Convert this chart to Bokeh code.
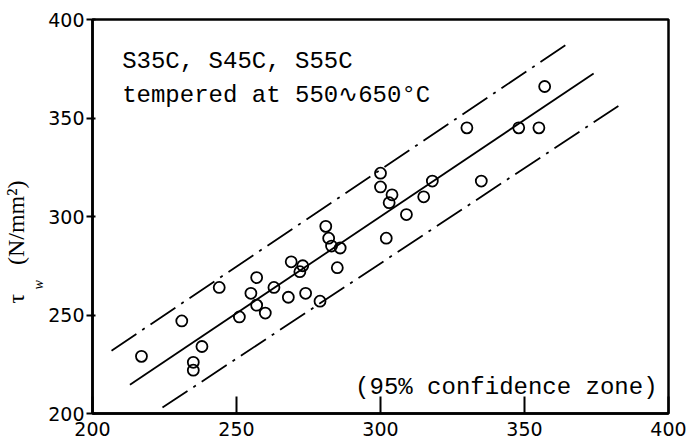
from bokeh.plotting import figure
from bokeh.models import Range1d, FixedTicker, Title
from bokeh.core.properties import value
from bokeh.embed import file_html
from bokeh.resources import INLINE

# ---- data ----
sigma_x = [217, 231, 235, 235, 238, 244, 251, 255, 257, 257, 260, 263, 268, 269,
           272, 273, 274, 279, 281, 282, 283, 286, 285, 300, 300, 302, 303, 304,
           309, 315, 318, 330, 335, 348, 355, 357]
tau_y = [229, 247, 226, 222, 234, 264, 249, 261, 255, 269, 251, 264, 259, 277,
         272, 275, 261, 257, 295, 289, 285, 284, 274, 322, 315, 289, 307, 311,
         301, 310, 318, 345, 318, 345, 345, 366]

mean_x = [213, 374]
mean_y = [214.6, 372.6]
upper_x = [206.6, 365.9]
upper_y = [231.9, 388.6]
lower_x = [224.3, 382.6]
lower_y = [203.0, 356.1]

x_ticks = [200, 250, 300, 350, 400]
y_ticks = [200, 250, 300, 350, 400]

note1 = "S35C, S45C, S55C"
note2 = "tempered at 550\u223f650\u00b0C"
note3 = "(95% confidence zone)"
ylabel_main = "\u03c4\u2003\u2009(N/mm\u00b2)"
ylabel_sub = "w"

p = figure(width=689, height=447, output_backend="svg", toolbar_location=None,
           x_range=Range1d(200, 400), y_range=Range1d(200, 400),
           min_border_left=92, min_border_right=21, min_border_top=19,
           min_border_bottom=34)

p.grid.visible = False
p.background_fill_color = "white"
p.border_fill_color = "white"
p.outline_line_color = "black"
p.outline_line_width = 2.5

for ax in (p.xaxis[0], p.yaxis[0]):
    ax.axis_line_width = 2.5
    ax.axis_line_color = "black"
    ax.major_tick_line_width = 2
    ax.major_tick_line_color = "black"
    ax.minor_tick_line_color = None
    ax.major_label_text_font = "DejaVu Sans"
    ax.major_label_text_font_size = "19px"
    ax.major_label_text_color = "black"

p.xaxis.ticker = FixedTicker(ticks=x_ticks)
p.yaxis.ticker = FixedTicker(ticks=y_ticks)
p.xaxis.major_tick_in = 17
p.xaxis.major_tick_out = 0
p.xaxis.major_label_standoff = 8
p.yaxis.major_tick_in = 3
p.yaxis.major_tick_out = 6
p.yaxis.major_label_standoff = 2

# y-axis label: tau_w (N/mm^2), as titles in the left panel
p.add_layout(Title(text=ylabel_sub, align="left", offset=124, standoff=0,
                   text_font="Liberation Serif", text_font_size="14px",
                   text_font_style="italic", text_color="black"), "left")
p.add_layout(Title(text=ylabel_main, align="left", offset=110, standoff=0,
                   text_font="Liberation Serif", text_font_size="24px",
                   text_font_style="normal", text_color="black"), "left")

dashdot = "30 7 3 7"
p.line(mean_x, mean_y, line_color="black", line_width=1.8)
p.line(upper_x, upper_y, line_color="black", line_width=1.8, line_dash=dashdot)
p.line(lower_x, lower_y, line_color="black", line_width=1.8, line_dash=dashdot)

p.scatter(sigma_x, tau_y, marker="circle", size=11, fill_color=None,
          line_color="black", line_width=1.8)

mono = value("Liberation Mono")
p.text(x=[210.3], y=[378.8], text=[note1], text_font=mono, text_font_size="24px",
       text_baseline="alphabetic", text_align="left", text_color="black")
p.text(x=[210.3], y=[361.5], text=[note2], text_font=mono, text_font_size="24px",
       text_baseline="alphabetic", text_align="left", text_color="black")
p.text(x=[396.2], y=[213.2], text=[note3], text_font=mono, text_font_size="24px",
       text_baseline="alphabetic", text_align="right", text_color="black")

open("out.html", "w").write(file_html(p, INLINE))
